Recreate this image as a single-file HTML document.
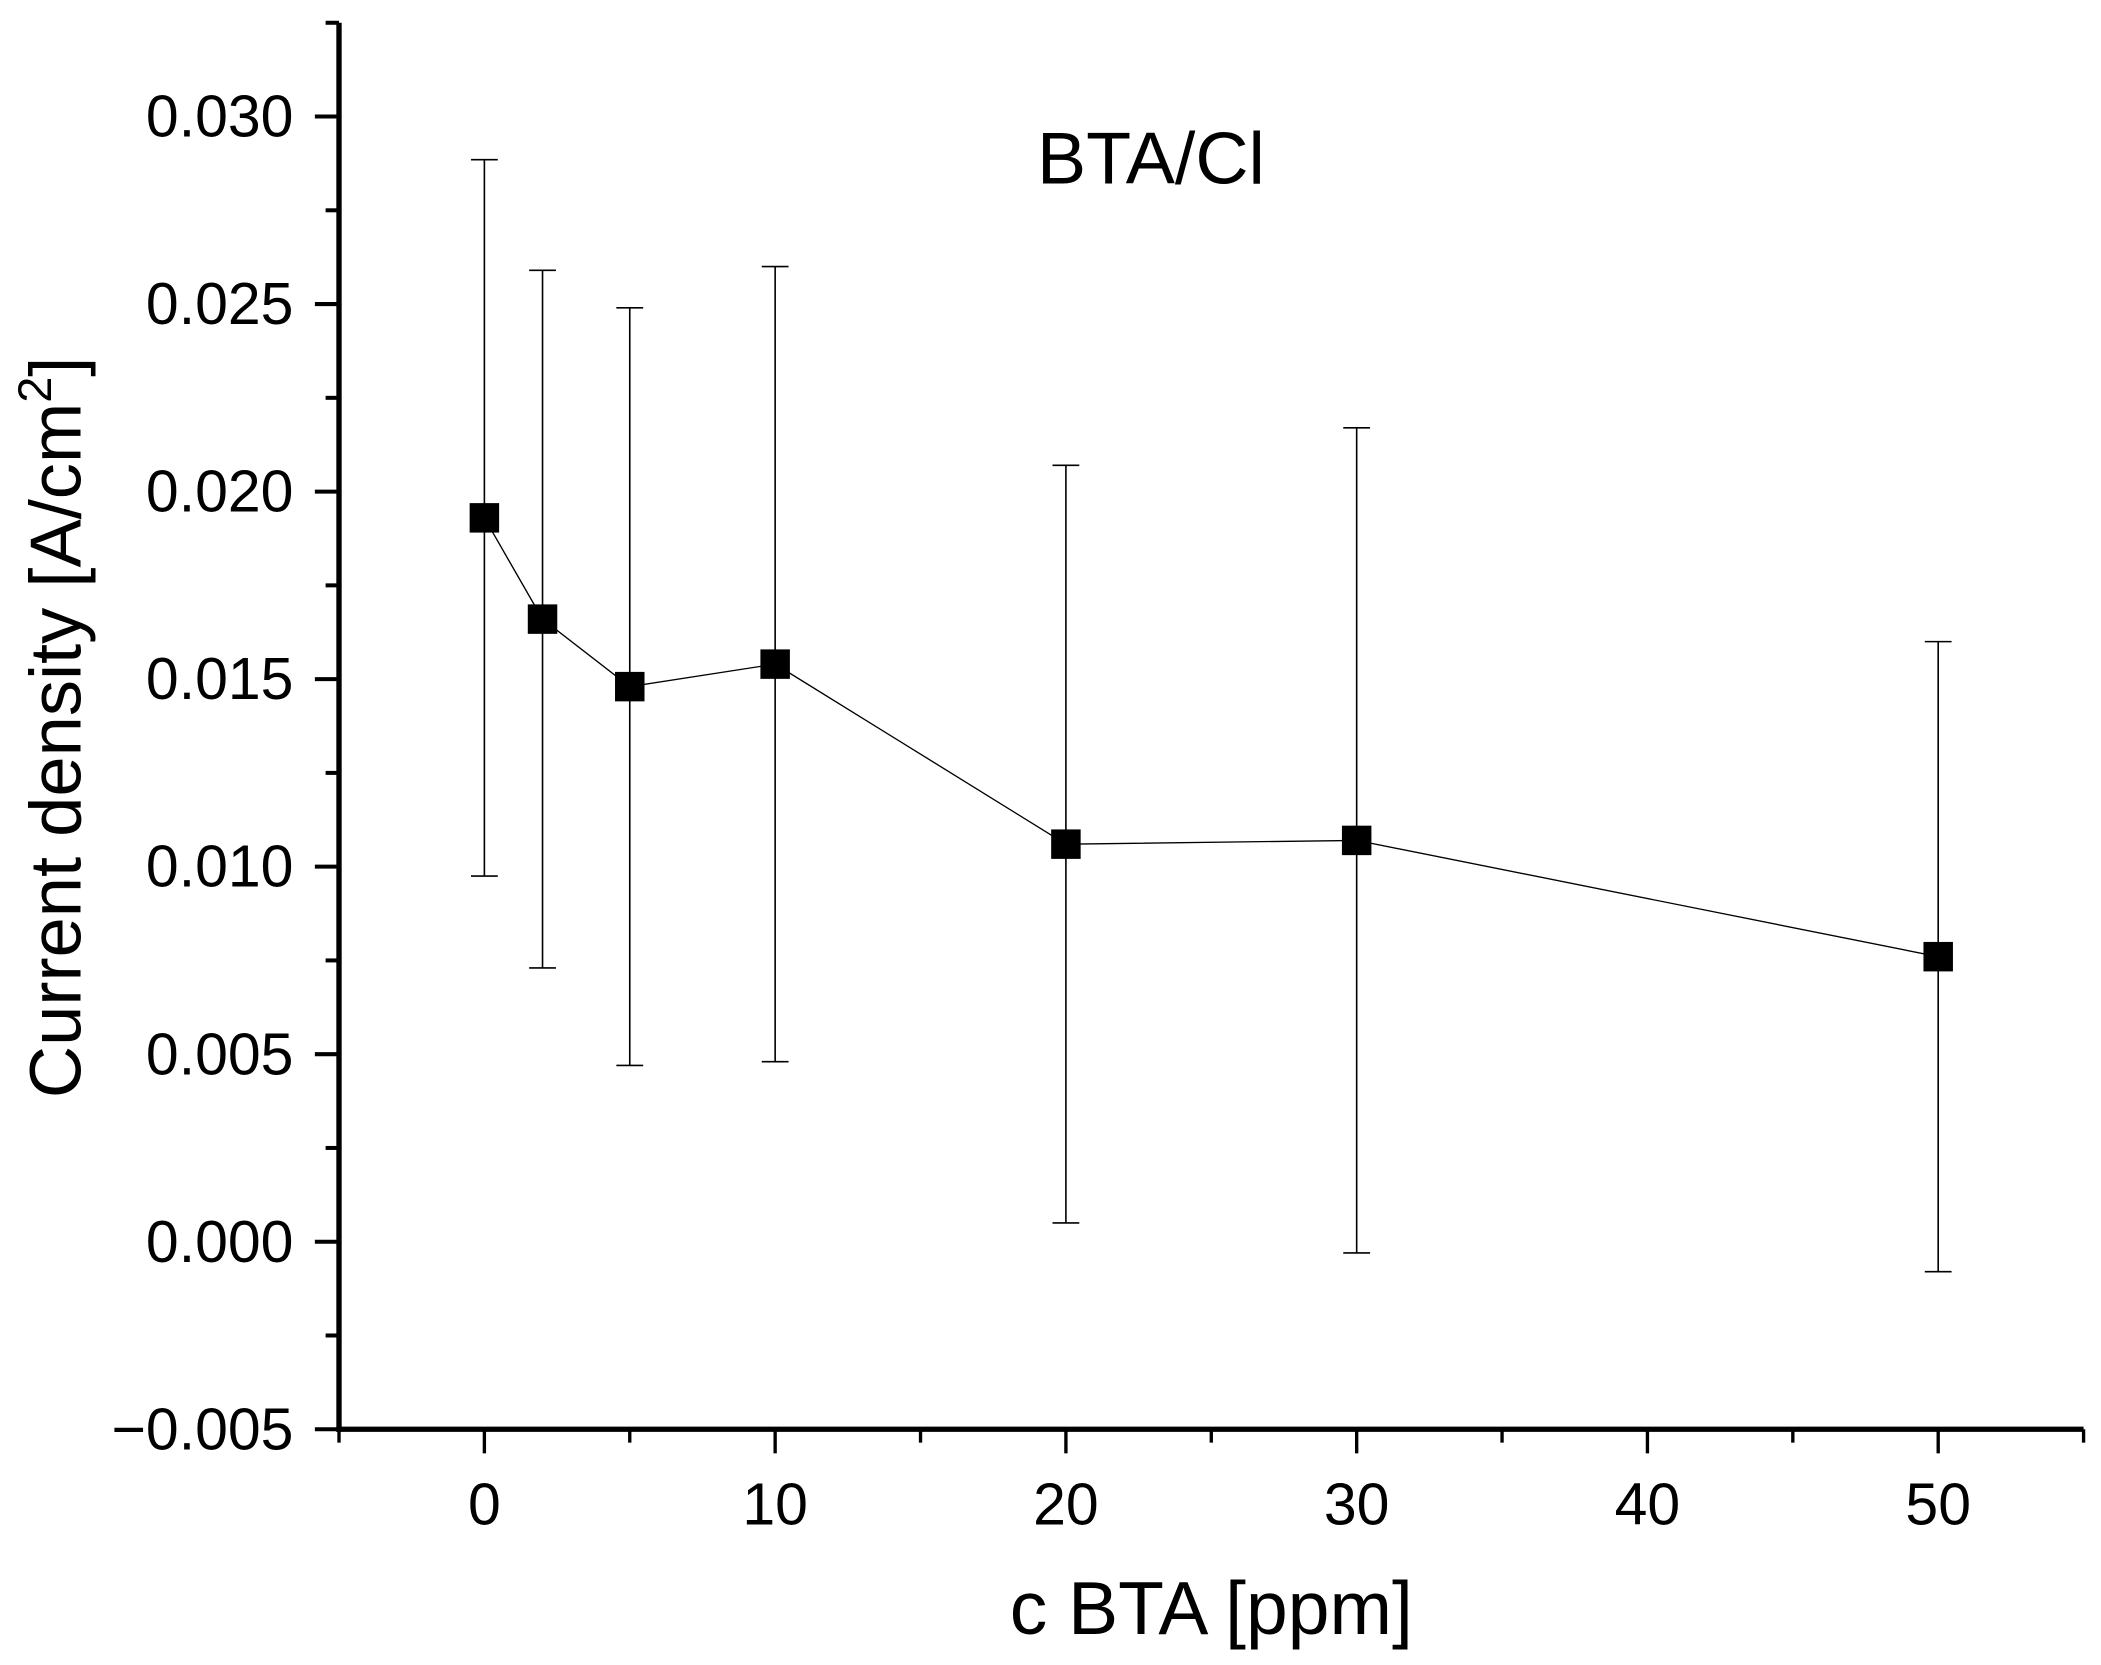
<!DOCTYPE html>
<html><head><meta charset="utf-8"><style>
html,body{margin:0;padding:0;background:#fff;}
svg{display:block;font-family:"Liberation Sans",sans-serif;}
</style></head><body>
<svg id="chart" width="2101" height="1665" viewBox="0 0 1568 1243" preserveAspectRatio="none" xmlns="http://www.w3.org/2000/svg">
<rect width="1568" height="1243" fill="#fff"/>
<g id="axes"></g>
<g id="series"></g>
<text x="859" y="137" font-size="55" text-anchor="middle">BTA/Cl</text>
<text x="904" y="1220" font-size="56" text-anchor="middle">c BTA [ppm]</text>
<text transform="translate(60,543) rotate(-90)" font-size="54" text-anchor="middle">Current density [A/cm<tspan dy="-22" font-size="35">2</tspan><tspan dy="22">]</tspan></text>
</svg>
<script>
const xValues = [0, 2, 5, 10, 20, 30, 50];
const yValues = [0.0193, 0.0166, 0.0148, 0.0154, 0.0106, 0.0107, 0.0076];
const yErrors = [0.00955, 0.0093, 0.0101, 0.0106, 0.0101, 0.0110, 0.0084];
const xTicks = [0, 10, 20, 30, 40, 50];
const yTicks = [-0.005, 0, 0.005, 0.010, 0.015, 0.020, 0.025, 0.030];
const yTickLabels = ["\u22120.005", "0.000", "0.005", "0.010", "0.015", "0.020", "0.025", "0.030"];

const NS = "http://www.w3.org/2000/svg";
const X0 = 253, X1 = 1555, Y0 = 1067, Ytop = 17;
const xMin = -5, xMax = 55, yMin = -0.005, yPer = 140 / 0.005;
function sx(v){ return X0 + (v - xMin) * (X1 - X0) / (xMax - xMin); }
function sy(v){ return Y0 - (v - yMin) * yPer; }
function mk(tag, attrs, parent){ const e = document.createElementNS(NS, tag); for (const k in attrs) e.setAttribute(k, attrs[k]); parent.appendChild(e); return e; }

const axes = document.getElementById('axes');
let el = mk('line', {x1:X0, y1:Ytop, x2:X0, y2:Y0+2, stroke:'#000', 'stroke-width':4}, axes);


el = mk('line', {x1:X0-2, y1:Y0, x2:X1, y2:Y0, stroke:'#000', 'stroke-width':4}, axes);



for (let v = xMin; v <= xMax + 0.001; v += 5) {
  const major = xTicks.includes(Math.round(v));
  el = mk('line', {x1:sx(v), y1:Y0, x2:sx(v), y2:Y0 + (major ? 18 : 10), stroke:'#000', 'stroke-width':2.5}, axes);
  
  
}
xTicks.forEach(v => {
  el = mk('text', {x:sx(v), y:1138, 'font-size':44, 'text-anchor':'middle'}, axes);
  el.textContent = String(v);
  
  
});
for (let v = yMin; v <= 0.0325; v += 0.0025) {
  const major = Math.abs(Math.round(v / 0.005) * 0.005 - v) < 1e-6;
  el = mk('line', {x1:X0 - (major ? 18 : 10), y1:sy(v), x2:X0, y2:sy(v), stroke:'#000', 'stroke-width':3}, axes);
  
  
}
yTicks.forEach((v, i) => {
  el = mk('text', {x:219, y:sy(v) + 15, 'font-size':44, 'text-anchor':'end'}, axes);
  el.textContent = yTickLabels[i];
  
  
});

const series = document.getElementById('series');
const pts = xValues.map((x, i) => sx(x) + ',' + sy(yValues[i])).join(' ');
el = mk('polyline', {points:pts, fill:'none', stroke:'#000', 'stroke-width':1}, series);


xValues.forEach((x, i) => {
  const cx = sx(x), hi = sy(yValues[i] + yErrors[i]), lo = sy(yValues[i] - yErrors[i]);
  const g = mk('g', {}, series);
  
  
  mk('line', {x1:cx, y1:hi, x2:cx, y2:lo, stroke:'#000', 'stroke-width':1.2}, g);
  mk('line', {x1:cx-10, y1:hi, x2:cx+10, y2:hi, stroke:'#000', 'stroke-width':1.2}, g);
  mk('line', {x1:cx-10, y1:lo, x2:cx+10, y2:lo, stroke:'#000', 'stroke-width':1.2}, g);
  el = mk('rect', {x:cx-11, y:sy(yValues[i])-11, width:22, height:22, fill:'#000'}, series);
  
  
});
</script>
</body></html>
